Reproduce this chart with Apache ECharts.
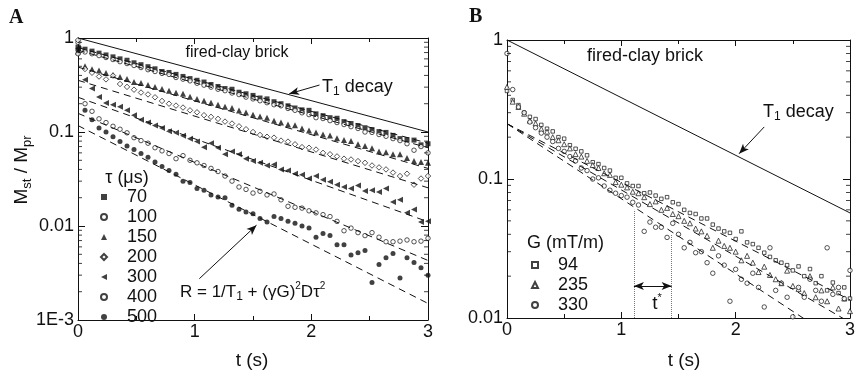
<!DOCTYPE html>
<html>
<head>
<meta charset="utf-8">
<script src="https://cdn.jsdelivr.net/npm/echarts@6/dist/echarts.min.js"></script>
<style>
  html, body { margin: 0; padding: 0; background: #fff; }
  #chart { width: 858px; height: 377px; }
</style>
</head>
<body>
<div id="chart"></div>
<script>
// panel A: stimulated echo decay for several tau (us)
const tA = [0, 0.06, 0.12, 0.18, 0.24, 0.3, 0.36, 0.42, 0.48, 0.54, 0.6, 0.66, 0.72, 0.78, 0.84, 0.9, 0.96,
  1.02, 1.08, 1.14, 1.2, 1.26, 1.32, 1.38, 1.44, 1.5, 1.56, 1.62, 1.68, 1.74, 1.8, 1.86, 1.92, 1.98,
  2.04, 2.1, 2.16, 2.22, 2.28, 2.34, 2.4, 2.46, 2.52, 2.58, 2.64, 2.7, 2.76, 2.82, 2.88, 2.94, 3.0];

const tau70 = [0.80, 0.76, 0.725, 0.69, 0.66, 0.63, 0.60, 0.58, 0.545, 0.52,
  0.495, 0.47, 0.44, 0.43, 0.41, 0.39, 0.37, 0.355, 0.34, 0.32,
  0.305, 0.29, 0.285, 0.265, 0.255, 0.245, 0.23, 0.225, 0.21, 0.20,
  0.19, 0.18, 0.172, 0.17, 0.156, 0.149, 0.142, 0.14, 0.129, 0.123,
  0.117, 0.111, 0.106, 0.101, 0.099, 0.092, 0.085, 0.083, 0.082, 0.073,
  0.075];
const tau100 = [0.90, 0.71, 0.68, 0.65, 0.62, 0.59, 0.56, 0.535, 0.51, 0.485,
  0.46, 0.44, 0.42, 0.41, 0.38, 0.365, 0.35, 0.33, 0.315, 0.30,
  0.285, 0.275, 0.26, 0.25, 0.235, 0.225, 0.215, 0.205, 0.195, 0.19,
  0.178, 0.17, 0.16, 0.153, 0.142, 0.139, 0.132, 0.126, 0.12, 0.114,
  0.109, 0.10, 0.099, 0.094, 0.09, 0.085, 0.081, 0.075, 0.064, 0.070,
  0.060];
const tau150 = [0.72, 0.50, 0.466, 0.45, 0.423, 0.403, 0.384, 0.366, 0.34, 0.332,
  0.316, 0.301, 0.287, 0.274, 0.261, 0.255, 0.237, 0.225, 0.215, 0.205,
  0.195, 0.186, 0.18, 0.169, 0.161, 0.153, 0.146, 0.142, 0.132, 0.126,
  0.120, 0.118, 0.109, 0.104, 0.099, 0.094, 0.092, 0.086, 0.082, 0.080,
  0.074, 0.071, 0.067, 0.062, 0.061, 0.058, 0.058, 0.053, 0.049, 0.048,
  0.047];
const tau200 = [0.95, 0.468, 0.427, 0.389, 0.363, 0.398, 0.324, 0.302, 0.282, 0.263,
  0.251, 0.234, 0.214, 0.200, 0.191, 0.182, 0.170, 0.162, 0.151, 0.145,
  0.138, 0.129, 0.123, 0.115, 0.107, 0.100, 0.093, 0.089, 0.087, 0.081,
  0.079, 0.074, 0.069, 0.068, 0.065, 0.060, 0.058, 0.055, 0.052, 0.051,
  0.049, 0.047, 0.044, 0.042, 0.040, 0.037, 0.034, 0.036, 0.0275, 0.032,
  0.034];
const tau300 = [0.78, 0.36, 0.29, 0.235, 0.204, 0.195, 0.186, 0.170, 0.151, 0.135,
  0.126, 0.117, 0.110, 0.102, 0.098, 0.091, 0.085, 0.079, 0.069, 0.076,
  0.068, 0.058, 0.062, 0.058, 0.052, 0.049, 0.047, 0.044, 0.045, 0.040,
  0.039, 0.036, 0.035, 0.032, 0.034, 0.031, 0.0295, 0.0275, 0.026, 0.025,
  0.027, 0.0235, 0.024, 0.023, 0.025, 0.018, 0.019, 0.0138, 0.015, 0.011,
  0.0112];
const tau400 = [0.68, 0.20, 0.166, 0.138, 0.126, 0.115, 0.107, 0.098, 0.087, 0.081,
  0.076, 0.068, 0.063, 0.059, 0.052, 0.056, 0.050, 0.047, 0.044, 0.041,
  0.038, 0.034, 0.030, 0.026, 0.0245, 0.0224, 0.0234, 0.0214, 0.0219, 0.019,
  0.0162, 0.0158, 0.0155, 0.0145, 0.0138, 0.0132, 0.0126, 0.0112, 0.0089, 0.0095,
  0.0085, 0.0079, 0.0085, 0.0076, 0.0068, 0.0068, 0.0069, 0.0071, 0.0068, 0.0069,
  0.0074];
const tau500 = [0.74, 0.17, 0.135, 0.11, 0.10, 0.089, 0.079, 0.071, 0.065, 0.059,
  0.054, 0.048, 0.043, 0.039, 0.0355, 0.030, 0.029, 0.025, 0.024, 0.0214,
  0.0204, 0.020, 0.0166, 0.0151, 0.0141, 0.0135, 0.012, 0.011, 0.0126, 0.012,
  0.0112, 0.0107, 0.010, 0.0095, 0.0076, 0.0083, 0.0079, 0.0063, 0.0063, 0.0049,
  0.0052, 0.0055, 0.0025, 0.0039, 0.0046, 0.0051, 0.0028, 0.0046, 0.0041, 0.0036,
  0.003];

// fitted exponentials, value at t=0 and t=3
const fitT = [0, 3];
const fitA70 = [0.79, 0.076];
const fitA100 = [0.74, 0.068];
const fitA150 = [0.49, 0.041];
const fitA200 = [0.355, 0.0255];
const fitA300 = [0.234, 0.0111];
const fitA400 = [0.158, 0.0043];
const fitA500 = [0.117, 0.0015];
const t1A = [1, 0.1];

// panel B: decay for several gradients G (mT/m)
const tB = [0, 0.05, 0.1, 0.15, 0.2, 0.25, 0.3, 0.35, 0.4, 0.45, 0.5, 0.55, 0.6, 0.65, 0.7, 0.75, 0.8, 0.85,
  0.9, 0.95, 1.0, 1.05, 1.1, 1.15, 1.2, 1.25, 1.3, 1.35, 1.4, 1.45, 1.5, 1.55, 1.6, 1.65, 1.7, 1.75,
  1.8, 1.85, 1.9, 1.95, 2.0, 2.05, 2.1, 2.15, 2.2, 2.25, 2.3, 2.35, 2.4, 2.45, 2.5, 2.55, 2.6, 2.65,
  2.7, 2.75, 2.8, 2.85, 2.9, 2.95, 3.0];
const g94 = [0.43, 0.37, 0.34, 0.30, 0.28, 0.27, 0.245, 0.23, 0.22, 0.20,
  0.195, 0.175, 0.165, 0.158, 0.148, 0.132, 0.128, 0.12, 0.115, 0.102,
  0.102, 0.093, 0.089, 0.089, 0.079, 0.080, 0.076, 0.072, 0.074, 0.068,
  0.066, 0.060, 0.057, 0.056, 0.052, 0.052, 0.047, 0.044, 0.042, 0.041,
  0.037, 0.042, 0.035, 0.034, 0.032, 0.0295, 0.0275, 0.026, 0.025, 0.024,
  0.022, 0.0235, 0.020, 0.0225, 0.0178, 0.020, 0.0158, 0.018, 0.0151, 0.0166,
  0.0138];
const g235 = [0.46, 0.36, 0.33, 0.295, 0.263, 0.251, 0.229, 0.219, 0.20, 0.19,
  0.178, 0.166, 0.151, 0.145, 0.135, 0.126, 0.12, 0.11, 0.107, 0.095,
  0.091, 0.087, 0.081, 0.079, 0.074, 0.066, 0.069, 0.060, 0.062, 0.056,
  0.054, 0.050, 0.048, 0.044, 0.042, 0.039, 0.032, 0.036, 0.033, 0.032,
  0.030, 0.026, 0.028, 0.025, 0.0214, 0.0234, 0.0204, 0.019, 0.0178, 0.0219,
  0.017, 0.0162, 0.0151, 0.020, 0.0141, 0.0158, 0.0132, 0.0166, 0.0117, 0.0138,
  0.0112];
const g330 = [0.80, 0.44, 0.33, 0.30, 0.257, 0.234, 0.214, 0.20, 0.186, 0.166,
  0.158, 0.145, 0.135, 0.12, 0.115, 0.10, 0.102, 0.089, 0.083, 0.079,
  0.076, 0.074, 0.068, 0.065, 0.042, 0.049, 0.045, 0.045, 0.038, 0.048,
  0.040, 0.032, 0.035, 0.0295, 0.030, 0.025, 0.021, 0.028, 0.024, 0.0132,
  0.0224, 0.019, 0.0178, 0.021, 0.0166, 0.012, 0.032, 0.0158, 0.0178, 0.0141,
  0.0102, 0.0166, 0.0141, 0.019, 0.0158, 0.0132, 0.032, 0.0148, 0.0166, 0.0138,
  0.022];
const fitB94 = [0.25, 0.0135];
const fitB235 = [0.25, 0.0093];
const fitB330 = [0.25, 0.006];
const t1B = [1, 0.057];

// log axis minor tick values
const minorA = [0.002, 0.003, 0.004, 0.005, 0.006, 0.007, 0.008, 0.009,
  0.02, 0.03, 0.04, 0.05, 0.06, 0.07, 0.08, 0.09,
  0.2, 0.3, 0.4, 0.5, 0.6, 0.7, 0.8, 0.9];
const minorB = [0.02, 0.03, 0.04, 0.05, 0.06, 0.07, 0.08, 0.09,
  0.2, 0.3, 0.4, 0.5, 0.6, 0.7, 0.8, 0.9];

const INK = '#111';
const FONT = 'Liberation Sans';
const leftTri = 'path://M0,5L10,0L10,10Z';

const pts = (ts, vs) => vs.map((v, i) => [ts[i], v]);

const logLabel = (v) => {
  if (Math.abs(v - 1) < 1e-6) return '1';
  if (Math.abs(v - 0.1) < 1e-7) return '0.1';
  if (Math.abs(v - 0.01) < 1e-8) return '0.01';
  if (Math.abs(v - 0.001) < 1e-9) return '1E-3';
  return '';
};

const xAxisFor = (gridIndex, position, showLabels) => ({
  type: 'value', gridIndex, position, min: 0, max: 3, interval: 1,
  axisLine: { show: true, onZero: false, lineStyle: { color: INK, width: 1 } },
  axisTick: { show: true, inside: true, length: 6, lineStyle: { color: INK } },
  minorTick: { show: true, splitNumber: 2, length: 4, lineStyle: { color: INK } },
  splitLine: { show: false },
  axisLabel: { show: showLabels, margin: 3, fontSize: 18, color: INK, fontFamily: FONT },
});

const yAxisFor = (gridIndex, position, min, showLabels) => ({
  type: 'log', logBase: 10, gridIndex, position, min, max: 1,
  axisLine: { show: true, onZero: false, lineStyle: { color: INK, width: 1 } },
  axisTick: { show: true, inside: true, length: 7, lineStyle: { color: INK } },
  splitLine: { show: false },
  axisLabel: { show: showLabels, formatter: logLabel, margin: 4, fontSize: 18, color: INK, fontFamily: FONT },
});

// short inward tick marks on both log axes, drawn as tiny rect symbols
const minorTicks = (xi, yi, values, x, dx) => ({
  type: 'scatter', xAxisIndex: xi, yAxisIndex: yi, silent: true, z: 5, clip: false,
  data: values.map((v) => [x, v]),
  symbol: 'rect', symbolSize: [4, 1], symbolOffset: [dx, 0],
  itemStyle: { color: INK },
});

const dashed = (xi, yi, f) => ({
  type: 'line', xAxisIndex: xi, yAxisIndex: yi, data: pts(fitT, f), symbol: 'none', silent: true,
  lineStyle: { color: INK, width: 1, type: [7, 5] },
});

const scatter = (xi, yi, name, ts, vals, symbol, size) => {
  const open = symbol === 'open';
  return {
    name, type: 'scatter', xAxisIndex: xi, yAxisIndex: yi, data: pts(ts, vals),
    symbol: open ? 'circle' : symbol, symbolSize: size, symbolKeepAspect: true,
    itemStyle: { color: INK, borderColor: INK, borderWidth: 0 },
  };
};

const hollow = (xi, yi, name, ts, vals, symbol, size) => ({
  name, type: 'scatter', xAxisIndex: xi, yAxisIndex: yi, data: pts(ts, vals),
  symbol, symbolSize: size, symbolKeepAspect: true,
  itemStyle: { color: '#fff', borderColor: INK, borderWidth: 0.9 },
});

const arrowStyle = { color: INK, width: 1, type: 'solid' };

const series = [
  minorTicks(0, 0, minorA, 0, 2), minorTicks(0, 0, minorA, 3, -2),
  minorTicks(2, 2, minorB, 0, 2), minorTicks(2, 2, minorB, 3, -2),
  {
    type: 'line', xAxisIndex: 0, yAxisIndex: 0, data: pts(fitT, t1A), symbol: 'none',
    lineStyle: { color: INK, width: 1 },
    markLine: {
      silent: true, symbol: ['none', 'arrow'], symbolSize: [6, 10], lineStyle: arrowStyle, label: { show: false },
      data: [
        [{ coord: [2.07, 0.316] }, { coord: [1.81, 0.255] }],
        [{ coord: [1.04, 0.00275] }, { coord: [1.53, 0.0102] }],
      ],
    },
  },
  dashed(0, 0, fitA70), dashed(0, 0, fitA100), dashed(0, 0, fitA150), dashed(0, 0, fitA200),
  dashed(0, 0, fitA300), dashed(0, 0, fitA400), dashed(0, 0, fitA500),
  scatter(0, 0, '70', tA, tau70, 'rect', 5),
  hollow(0, 0, '100', tA, tau100, 'circle', 4.5),
  scatter(0, 0, '150', tA, tau150, 'triangle', 6),
  hollow(0, 0, '200', tA, tau200, 'diamond', 5.5),
  scatter(0, 0, '300', tA, tau300, leftTri, 6),
  hollow(0, 0, '400', tA, tau400, 'circle', 4.5),
  scatter(0, 0, '500', tA, tau500, 'circle', 5),
  {
    type: 'line', xAxisIndex: 2, yAxisIndex: 2, data: pts(fitT, t1B), symbol: 'none',
    lineStyle: { color: INK, width: 1 },
    markLine: {
      silent: true, symbol: ['none', 'arrow'], symbolSize: [6, 10], lineStyle: arrowStyle, label: { show: false },
      data: [
        [{ coord: [2.25, 0.237] }, { coord: [2.03, 0.152] }],
        [{ coord: [1.11, 0.017], symbol: 'arrow' }, { coord: [1.44, 0.017], symbol: 'arrow' }],
        [{ coord: [1.11, 0.01], symbol: 'none', lineStyle: { type: 'dotted', color: '#777' } },
          { coord: [1.11, 0.06], symbol: 'none' }],
        [{ coord: [1.44, 0.01], symbol: 'none', lineStyle: { type: 'dotted', color: '#777' } },
          { coord: [1.44, 0.04], symbol: 'none' }],
      ],
    },
  },
  dashed(2, 2, fitB94), dashed(2, 2, fitB235), dashed(2, 2, fitB330),
  hollow(2, 2, '94', tB, g94, 'rect', 3.5),
  hollow(2, 2, '235', tB, g235, 'triangle', 5),
  hollow(2, 2, '330', tB, g330, 'circle', 4.5),
];

const legendBase = {
  orient: 'vertical', itemWidth: 6, itemHeight: 6, itemGap: 0, selectedMode: false,
  textStyle: { fontSize: 18, fontFamily: FONT, color: INK, lineHeight: 20, padding: [0, 0, 0, 15] },
};

const txt = (x, y, text, size, extra) => ({
  type: 'text', x, y, z: 100, silent: true,
  style: Object.assign({
    text, fontSize: size, fontFamily: FONT, fill: INK, align: 'left', verticalAlign: 'middle',
    lineHeight: size + 4,
    rich: {
      s: { fontSize: Math.round(size * 0.68), lineHeight: Math.round(size * 0.68), verticalAlign: 'bottom' },
      p: { fontSize: Math.round(size * 0.6), lineHeight: Math.round(size * 0.6), verticalAlign: 'top' },
    },
  }, extra || {}),
});

const yTitle = txt(22, 170, 'M{s|st} / M{s|pr}', 19, { align: 'center' });
yTitle.rotation = Math.PI / 2;

const option = {
  animation: false,
  backgroundColor: '#fff',
  grid: [
    { left: 78, top: 38, width: 350, height: 282 },
    { left: 507, top: 40, width: 350, height: 278 },
  ],
  xAxis: [
    xAxisFor(0, 'bottom', true), xAxisFor(0, 'top', false),
    xAxisFor(1, 'bottom', true), xAxisFor(1, 'top', false),
  ],
  yAxis: [
    yAxisFor(0, 'left', 0.001, true), yAxisFor(0, 'right', 0.001, false),
    yAxisFor(1, 'left', 0.01, true), yAxisFor(1, 'right', 0.01, false),
  ],
  legend: [
    Object.assign({}, legendBase, { data: ['70', '100', '150', '200', '300', '400', '500'], left: 95, top: 182 }),
    Object.assign({}, legendBase, { data: ['94', '235', '330'], left: 526, top: 250 }),
  ],
  series,
  graphic: [
    { type: 'text', x: 9, y: 18, z: 100, style: { text: 'A', font: 'bold 20px "Liberation Serif"', fill: INK, verticalAlign: 'middle' } },
    { type: 'text', x: 469, y: 17, z: 100, style: { text: 'B', font: 'bold 20px "Liberation Serif"', fill: INK, verticalAlign: 'middle' } },
    yTitle,
    txt(237, 53, 'fired-clay brick', 16, { align: 'center' }),
    txt(322, 87, 'T{s|1} decay', 18),
    txt(127, 178, 'τ (μs)', 18, { align: 'center' }),
    txt(180, 292, 'R = 1/T{s|1} + (γG){p|2}Dτ{p|2}', 17),
    txt(252, 361, 't (s)', 19, { align: 'center' }),
    txt(645, 56, 'fired-clay brick', 18, { align: 'center' }),
    txt(763, 112, 'T{s|1} decay', 18),
    txt(527, 243, 'G (mT/m)', 18),
    txt(657, 304, 't{p|*}', 19, { align: 'center' }),
    txt(684, 361, 't (s)', 19, { align: 'center' }),
  ],
};

const chart = echarts.init(document.getElementById('chart'));
chart.setOption(option);
</script>
</body>
</html>
